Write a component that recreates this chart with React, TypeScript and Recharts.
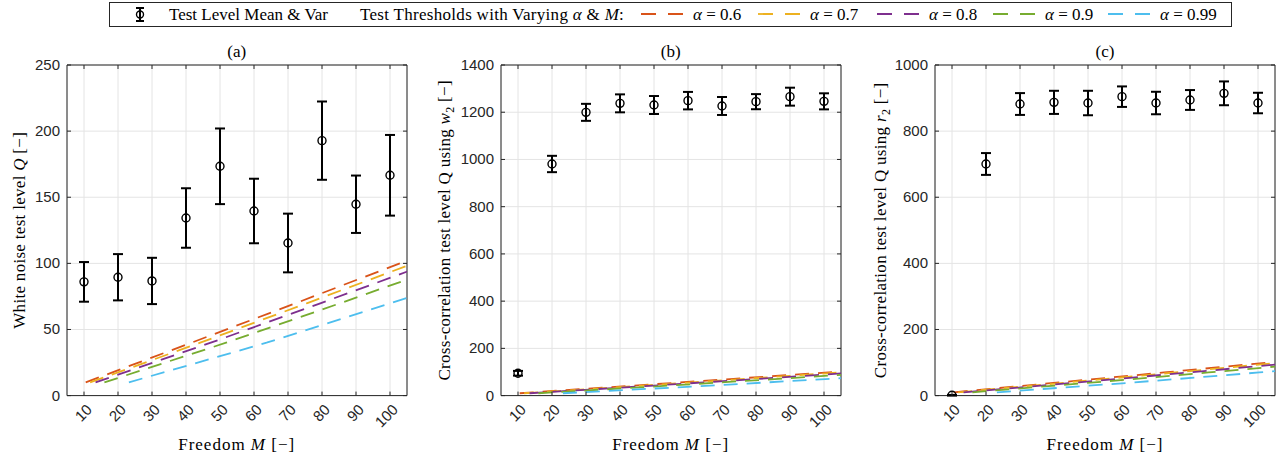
import React from 'react';
import {
  ComposedChart,
  XAxis,
  YAxis,
  CartesianGrid,
  Line,
  Scatter,
  ErrorBar,
  ReferenceArea,
} from 'recharts';

// Freedom M on the x axis
const freedomM = [10, 20, 30, 40, 50, 60, 70, 80, 90, 100];

// (a) white noise test level, mean and spread
const whiteMean = [86, 89.5, 86.7, 134.3, 173.4, 139.6, 115.4, 192.8, 144.7, 166.6];
const whiteSpread = [15, 17.5, 17.5, 22.5, 28.6, 24.4, 22.2, 29.6, 21.7, 30.5];

// (b) cross-correlation using w2
const w2Mean = [94.6, 980.8, 1199.5, 1237.6, 1230.6, 1249, 1226.4, 1244.7, 1265.9, 1246.1];
const w2Spread = [10, 34.6, 36, 38, 38, 37, 38, 32, 38, 34];

// (c) cross-correlation using r2
const r2Mean = [1, 700.6, 882, 887, 885, 904.2, 885, 894.2, 914.3, 885];
const r2Spread = [1, 33, 33, 35, 37, 31, 34, 30, 36, 31];

// thresholds: M on the vertical, threshold value on the horizontal
const thresholdM = [10, 40, 70, 100];
const thr06 = [10.5, 41.6, 72.4, 102.9];
const thr07 = [11.8, 44.2, 75.7, 106.9];
const thr08 = [13.4, 47.3, 79.7, 111.7];
const thr09 = [16.0, 51.8, 85.5, 118.5];
const thr099 = [23.2, 63.7, 100.4, 135.8];

const alphaLabels = ['0.6', '0.7', '0.8', '0.9', '0.99'];
const alphaColors = ['#D95319', '#EDB120', '#7E2F8E', '#77AC30', '#4DBEEE'];
const thresholdSets = [thr06, thr07, thr08, thr09, thr099];

const yTicksA = [0, 50, 100, 150, 200, 250];
const yTicksB = [0, 200, 400, 600, 800, 1000, 1200, 1400];
const yTicksC = [0, 200, 400, 600, 800, 1000];

const PLOT_W = 340;
const PLOT_H = 330.6;
const PLOT_TOP = 65;
const LEFT_PAD = 75;
const CHART_W = LEFT_PAD + PLOT_W + 6;
const TICK = 4;
const AXIS_COLOR = '#262626';
const SANS = '"Liberation Sans", Arial, Helvetica, sans-serif';
const SERIF = '"Liberation Serif", "Times New Roman", serif';

const XTick = (props: any) => {
  const { x, y, payload } = props;
  return (
    <g>
      <line x1={x} x2={x} y1={y} y2={y - TICK} stroke={AXIS_COLOR} />
      <line x1={x} x2={x} y1={y - PLOT_H} y2={y - PLOT_H + TICK} stroke={AXIS_COLOR} />
      <text
        transform={`translate(${x + 9},${y + 15}) rotate(-45)`}
        textAnchor="end"
        fontFamily={SANS}
        fontSize={15}
        fill={AXIS_COLOR}
      >
        {payload.value}
      </text>
    </g>
  );
};

const YTick = (props: any) => {
  const { x, y, payload } = props;
  return (
    <g>
      <line x1={x} x2={x + TICK} y1={y} y2={y} stroke={AXIS_COLOR} />
      <line x1={x + PLOT_W} x2={x + PLOT_W - TICK} y1={y} y2={y} stroke={AXIS_COLOR} />
      <text x={x - 7} y={y + 5} textAnchor="end" fontFamily={SANS} fontSize={15} fill={AXIS_COLOR}>
        {payload.value}
      </text>
    </g>
  );
};

const Ring = (props: any) => (
  <circle cx={props.cx} cy={props.cy} r={4} fill="none" stroke="#000" strokeWidth={1.4} />
);

interface PanelProps {
  plotLeft: number;
  mean: number[];
  spread: number[];
  yMax: number;
  yTicks: number[];
}

function Panel({ plotLeft, mean, spread, yMax, yTicks }: PanelProps) {
  const points = freedomM.map((m, i) => ({ x: m, y: mean[i], err: spread[i] }));
  return (
    <div style={{ position: 'absolute', left: plotLeft - LEFT_PAD, top: 0 }}>
      <ComposedChart
        width={CHART_W}
        height={464}
        margin={{ top: PLOT_TOP, right: 6, bottom: 0, left: LEFT_PAD - 45 }}
      >
        <CartesianGrid stroke="#e4e4e4" />
        <XAxis
          type="number"
          dataKey="x"
          domain={[5, 105]}
          ticks={freedomM}
          interval={0}
          allowDataOverflow
          height={464 - PLOT_TOP - PLOT_H}
          axisLine={false}
          tickLine={false}
          tickSize={0}
          tickMargin={0}
          tick={<XTick />}
        />
        <YAxis
          type="number"
          domain={[0, yMax]}
          ticks={yTicks}
          interval={0}
          allowDataOverflow
          width={45}
          axisLine={false}
          tickLine={false}
          tickSize={0}
          tickMargin={0}
          tick={<YTick />}
        />
        {thresholdSets.map((thr, k) => (
          <Line
            key={alphaLabels[k]}
            data={thresholdM.map((m, i) => ({ x: thr[i], y: m }))}
            dataKey="y"
            stroke={alphaColors[k]}
            strokeWidth={1.8}
            strokeDasharray="14 9"
            dot={false}
            isAnimationActive={false}
          />
        ))}
        <Scatter data={points} dataKey="y" shape={Ring} isAnimationActive={false}>
          <ErrorBar dataKey="err" direction="y" width={5} stroke="#000" strokeWidth={2} />
        </Scatter>
        <ReferenceArea
          x1={5}
          x2={105}
          y1={0}
          y2={yMax}
          fill="none"
          stroke={AXIS_COLOR}
          strokeWidth={1}
          ifOverflow="visible"
        />
      </ComposedChart>
    </div>
  );
}

const plotLefts = [66.7, 500.7, 935];
const titles = ['(a)', '(b)', '(c)'];

function Overlay() {
  const legendItems = [641, 758, 877, 993, 1108];
  return (
    <svg
      width={1284}
      height={464}
      style={{ position: 'absolute', left: 0, top: 0, pointerEvents: 'none' }}
    >
      {/* legend */}
      <rect x={109.5} y={2.5} width={1122} height={24} fill="#fff" stroke={AXIS_COLOR} />
      <g stroke="#000" strokeWidth={2}>
        <line x1={140} x2={140} y1={8} y2={21} />
        <line x1={136} x2={144} y1={8} y2={8} />
        <line x1={136} x2={144} y1={21} y2={21} />
      </g>
      <circle cx={140} cy={14.5} r={3.5} fill="none" stroke="#000" strokeWidth={1.4} />
      <text x={169} y={19.5} fontFamily={SERIF} fontSize={17} fill="#000">
        Test Level Mean &amp; Var
      </text>
      <text x={360} y={19.5} fontFamily={SERIF} fontSize={17} letterSpacing={0.3} fill="#000">
        Test Thresholds with Varying <tspan fontStyle="italic">α</tspan> &amp;{' '}
        <tspan fontStyle="italic">M</tspan>:
      </text>
      {legendItems.map((lx, k) => (
        <g key={alphaLabels[k]}>
          <line
            x1={lx}
            x2={lx + 42}
            y1={14}
            y2={14}
            stroke={alphaColors[k]}
            strokeWidth={1.8}
            strokeDasharray="15 12"
          />
          <text x={lx + 52} y={19.5} fontFamily={SERIF} fontSize={17} fill="#000">
            <tspan fontStyle="italic">α</tspan> = {alphaLabels[k]}
          </text>
        </g>
      ))}

      {/* titles and x labels */}
      {plotLefts.map((pl, k) => (
        <g key={titles[k]}>
          <text x={pl + PLOT_W / 2} y={57} textAnchor="middle" fontFamily={SERIF} fontSize={17}>
            {titles[k]}
          </text>
          <text
            x={pl + PLOT_W / 2}
            y={450}
            textAnchor="middle"
            fontFamily={SERIF}
            fontSize={17}
            letterSpacing={1}
          >
            Freedom <tspan fontStyle="italic">M</tspan> [−]
          </text>
        </g>
      ))}

      {/* y labels */}
      <text
        transform={`translate(25,${PLOT_TOP + PLOT_H / 2}) rotate(-90)`}
        textAnchor="middle"
        fontFamily={SERIF}
        fontSize={17}
        letterSpacing={0.3}
      >
        White noise test level <tspan fontStyle="italic">Q</tspan> [−]
      </text>
      <text
        transform={`translate(450,${PLOT_TOP + PLOT_H / 2}) rotate(-90)`}
        textAnchor="middle"
        fontFamily={SERIF}
        fontSize={17}
        letterSpacing={0.3}
      >
        Cross-correlation test level Q using <tspan fontStyle="italic">w</tspan>
        <tspan dy={4} fontSize={12}>2</tspan>
        <tspan dy={-4}> [−]</tspan>
      </text>
      <text
        transform={`translate(886,${PLOT_TOP + PLOT_H / 2}) rotate(-90)`}
        textAnchor="middle"
        fontFamily={SERIF}
        fontSize={17}
        letterSpacing={0.3}
      >
        Cross-correlation test level Q using <tspan fontStyle="italic">r</tspan>
        <tspan dy={4} fontSize={12}>2</tspan>
        <tspan dy={-4}> [−]</tspan>
      </text>
    </svg>
  );
}

export default function App() {
  return (
    <div
      style={{
        position: 'absolute',
        left: 0,
        top: 0,
        width: 1284,
        height: 464,
        background: '#fff',
        overflow: 'hidden',
      }}
    >
      <Panel plotLeft={plotLefts[0]} mean={whiteMean} spread={whiteSpread} yMax={250} yTicks={yTicksA} />
      <Panel plotLeft={plotLefts[1]} mean={w2Mean} spread={w2Spread} yMax={1400} yTicks={yTicksB} />
      <Panel plotLeft={plotLefts[2]} mean={r2Mean} spread={r2Spread} yMax={1000} yTicks={yTicksC} />
      <Overlay />
    </div>
  );
}
